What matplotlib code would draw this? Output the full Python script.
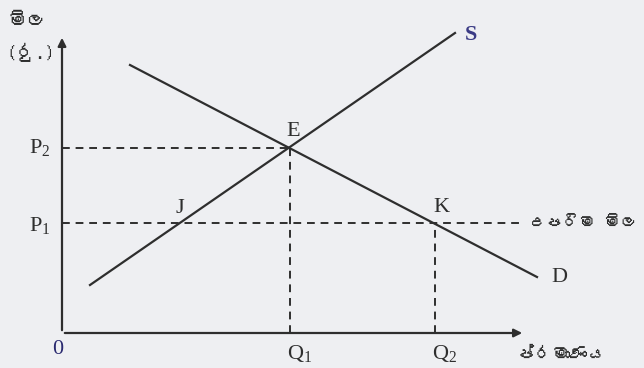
import matplotlib
matplotlib.use('Agg')
import matplotlib.pyplot as plt
from matplotlib import font_manager
from fontTools.ttLib import TTFont

# price ceiling diagram (origin at 0,0)
supply_x = [28, 393]
supply_y = [48, 300]
demand_x = [68, 475]
demand_y = [268, 56]
Q1, Q2 = 228, 373
P1, P2 = 110, 185
J_x = 119
ceiling_end = 458
x_axis_end, y_axis_end = 463, 298

# look for any installed font that can draw Sinhala
sinhala = []
for f in font_manager.fontManager.ttflist:
    try:
        if 0x0DB8 in TTFont(f.fname, fontNumber=0, lazy=True).getBestCmap():
            sinhala.append(f.name)
    except Exception:
        pass
si_family = sinhala[:1] + ['DejaVu Sans']

ink = '#2e2e2e'
serif = 'Liberation Serif'

fig = plt.figure(figsize=(6.44, 3.68), dpi=100, facecolor='#eeeff2')
ax = fig.add_axes([0, 0, 1, 1])
ax.set_facecolor('#eeeff2')
ax.set_xlim(-62, 582)
ax.set_ylim(-35, 333)
ax.axis('off')

# axes with arrows
ax.annotate('', xy=(0, y_axis_end), xytext=(0, 0),
            arrowprops=dict(arrowstyle='-|>', color=ink, lw=1.6, mutation_scale=12))
ax.annotate('', xy=(x_axis_end, 0), xytext=(0, 0),
            arrowprops=dict(arrowstyle='-|>', color=ink, lw=1.6, mutation_scale=12))

# supply and demand
ax.plot(supply_x, supply_y, color=ink, lw=1.6)
ax.plot(demand_x, demand_y, color=ink, lw=1.6)

# dashed guides
dash = dict(color=ink, lw=1.4, ls=(0, (4, 3)))
ax.plot([0, Q1], [P2, P2], **dash)
ax.plot([Q1, Q1], [0, P2], **dash)
ax.plot([0, ceiling_end], [P1, P1], **dash)
ax.plot([Q2, Q2], [0, P1], **dash)

# point and axis labels
fs = 16
ax.text(Q1 + 3, P2 + 7, 'E', fontsize=fs, family=serif, color=ink, ha='center', va='bottom')
ax.text(J_x - 1, P1 + 5, 'J', fontsize=fs, family=serif, color=ink, ha='center', va='bottom')
ax.text(Q2 + 6, P1 + 6, 'K', fontsize=fs, family=serif, color=ink, ha='center', va='bottom')
ax.text(supply_x[1] + 10, supply_y[1] - 2, 'S', fontsize=fs, family=serif, color='#3b3b85',
        ha='left', va='center', weight='bold')
ax.text(demand_x[1] + 14, demand_y[1] - 1, 'D', fontsize=fs, family=serif, color=ink,
        ha='left', va='center')
ax.text(-22, P2 + 1, '$\\mathregular{P_2}$', fontsize=fs, family=serif, color=ink,
        ha='center', va='center')
ax.text(-22, P1 - 3, '$\\mathregular{P_1}$', fontsize=fs, family=serif, color=ink,
        ha='center', va='center')
ax.text(-4, -16, '0', fontsize=fs, family=serif, color='#2a2a70', ha='center', va='center')
ax.text(Q1 + 10, -20, '$\\mathregular{Q_1}$', fontsize=fs, family=serif, color=ink,
        ha='center', va='center')
ax.text(Q2 + 10, -20, '$\\mathregular{Q_2}$', fontsize=fs, family=serif, color=ink,
        ha='center', va='center')

ax.text(-54, 312, 'මිල', fontsize=14, family=si_family, color=ink, ha='left', va='center')
ax.text(-56, 281, '(රු.)', fontsize=14, family=si_family, color=ink, ha='left', va='center')
ax.text(ceiling_end + 9, P1, 'උපරිම මිල', fontsize=12, family=si_family, color=ink,
        ha='left', va='center')
ax.text(x_axis_end - 8, -22, 'ප්රමාණය', fontsize=13, family=si_family, color=ink,
        ha='left', va='center')

fig.savefig('out.png', dpi=100, facecolor=fig.get_facecolor())
